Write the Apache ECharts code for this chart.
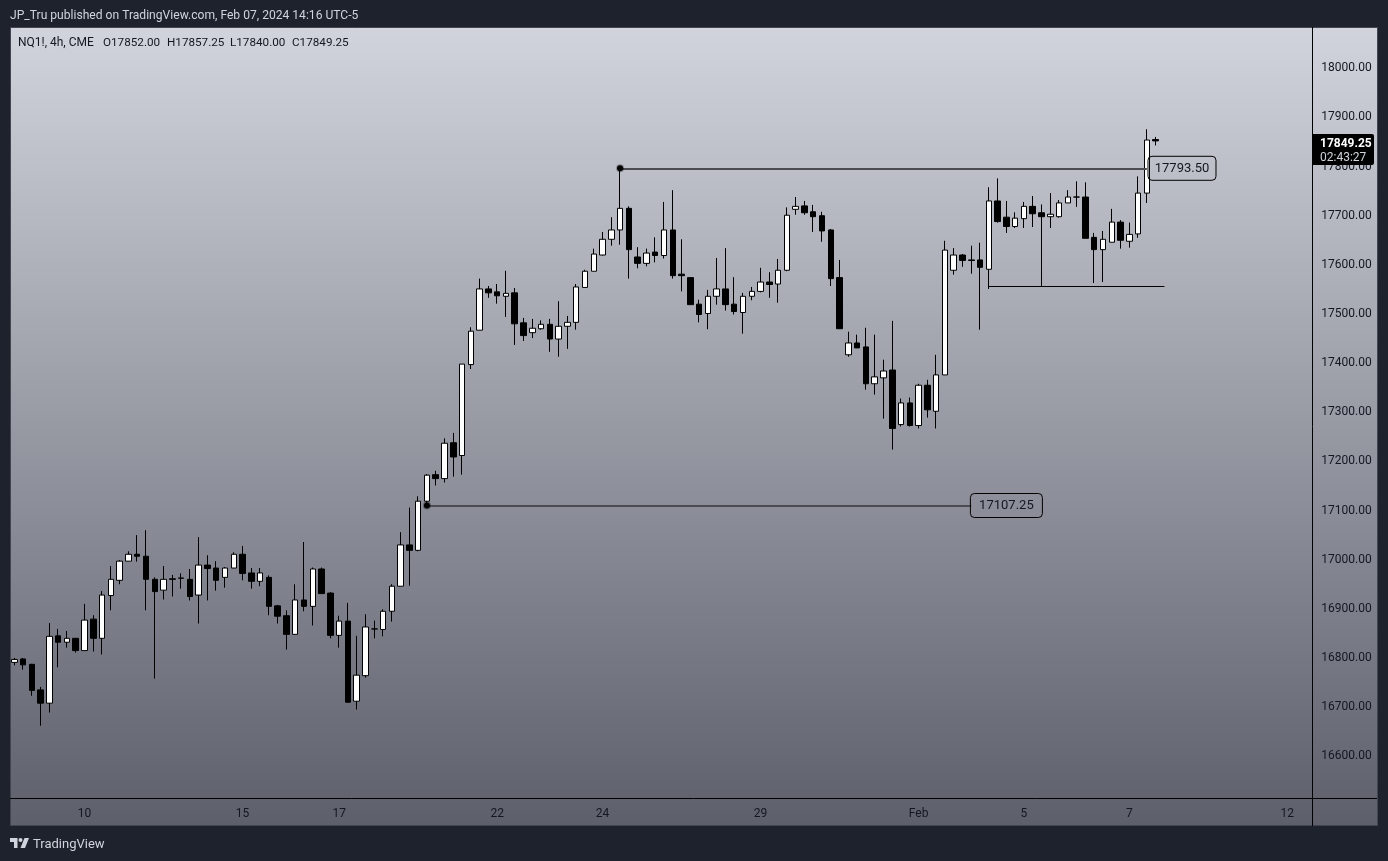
<!DOCTYPE html>
<html>
<head>
<meta charset="utf-8">
<title>NQ1! 4h</title>
<style>
  html, body { margin: 0; padding: 0; background: #1e222d; }
  #main { width: 1388px; height: 861px; }
</style>
<script src="https://cdn.jsdelivr.net/npm/echarts@6/dist/echarts.min.js"></script>
</head>
<body>
<div id="main"></div>
<script>
// one row per 4h bar: open, close, low, high
const bars = [
  [16788,16794,16782,16797],[16795,16783,16773,16797],[16784,16731,16720,16785],[16732,16705,16659,16738],
  [16705,16841,16686,16868],[16842,16829,16778,16856],[16829,16837,16818,16852],[16837,16812,16808,16837],
  [16812,16874,16812,16907],[16876,16837,16810,16884],[16837,16925,16804,16933],[16924,16957,16894,16984],
  [16955,16994,16947,16996],[16994,17008,16994,17014],[17008,17004,16993,17047],[17004,16957,16894,17057],
  [16957,16932,16755,16961],[16935,16957,16916,16984],[16958,16957,16922,16966],[16959,16960,16938,16969],
  [16957,16922,16914,16978],[16925,16986,16867,17043],[16986,16979,16914,17006],[16980,16955,16934,16994],
  [16961,16980,16940,16982],[16980,17008,16980,17012],[17008,16969,16955,17025],[16970,16953,16938,16980],
  [16953,16970,16943,16980],[16961,16902,16884,16965],[16903,16882,16867,16905],[16883,16845,16814,16894],
  [16845,16915,16845,16947],[16915,16902,16892,17033],[16902,16978,16863,16981],[16978,16928,16928,16981],
  [16929,16843,16837,16931],[16843,16872,16818,16883],[16872,16707,16706,16909],[16709,16762,16692,16842],
  [16761,16860,16757,16886],[16856,16856,16837,16873],[16855,16892,16841,16896],[16892,16943,16871,16947],
  [16943,17027,16943,17053],[17027,17016,16944,17103],[17016,17116,17014,17126],[17116,17169,17107,17171],
  [17170,17162,17148,17178],[17162,17234,17154,17244],[17235,17206,17166,17255],[17209,17395,17170,17395],
  [17394,17462,17385,17470],[17464,17548,17464,17569],[17548,17540,17530,17554],[17542,17534,17518,17558],
  [17533,17539,17491,17585],[17540,17477,17434,17550],[17479,17453,17442,17489],[17459,17468,17448,17487],
  [17467,17476,17465,17484],[17476,17446,17420,17487],[17446,17472,17410,17523],[17472,17480,17426,17493],
  [17480,17552,17465,17558],[17551,17584,17551,17587],[17584,17619,17584,17630],[17617,17649,17616,17664],
  [17649,17668,17636,17694],[17668,17712,17638,17793.5],[17712,17628,17569,17716],[17613,17600,17590,17633],
  [17600,17621,17594,17630],[17623,17616,17602,17653],[17616,17668,17610,17725],[17668,17575,17569,17749],
  [17578,17575,17543,17649],[17571,17516,17516,17571],[17517,17496,17480,17526],[17498,17533,17466,17546],
  [17533,17548,17516,17611],[17548,17516,17504,17631],[17517,17502,17496,17572],[17500,17533,17457,17540],
  [17533,17543,17525,17552],[17543,17562,17541,17591],[17562,17557,17530,17582],[17558,17586,17520,17609],
  [17586,17698,17584,17714],[17710,17716,17699,17735],[17717,17703,17699,17727],[17705,17695,17664,17719],
  [17697,17666,17644,17705],[17668,17569,17554,17670],[17571,17467,17467,17607],[17414,17438,17410,17461],
  [17438,17428,17428,17455],[17430,17355,17343,17469],[17355,17369,17333,17455],[17367,17381,17284,17404],
  [17383,17264,17221,17483],[17272,17316,17268,17325],[17316,17270,17268,17327],[17270,17352,17264,17355],
  [17352,17302,17286,17363],[17299,17373,17264,17414],[17373,17627,17373,17646],[17586,17617,17577,17631],
  [17617,17606,17593,17619],[17607,17606,17579,17636],[17607,17592,17465,17642],[17588,17727,17548,17755],
  [17727,17685,17683,17773],[17694,17675,17662,17727],[17675,17692,17672,17704],[17691,17716,17672,17725],
  [17716,17701,17674,17737],[17703,17695,17554,17720],[17695,17700,17672,17743],[17695,17723,17693,17729],
  [17723,17735,17723,17749],[17735,17735,17715,17767],[17735,17651,17651,17765],[17653,17628,17560,17662],
  [17628,17649,17562,17666],[17643,17684,17643,17711],[17684,17647,17630,17688],[17645,17659,17632,17683],
  [17660,17743,17652,17777],[17743,17851,17723,17873],[17852,17849.25,17840,17857.25]
];
const tickSlots = [8, 26, 37, 55, 67, 85, 103, 115, 127, 145];
const tickLabels = ['10', '15', '17', '22', '24', '29', 'Feb', '5', '7', '12'];
const priceTicks = [16600, 16700, 16800, 16900, 17000, 17100, 17200, 17300, 17400, 17500, 17600, 17700, 17800, 17900, 18000];
const topLevel = 17793.5;
const lowLevel = 17107.25;
const sweepLevel = 17554;

const slotCount = 148;
const fontName = 'Roboto, sans-serif';
const inkColor = '#131722';
const categories = Array.from({ length: slotCount }, (_, i) => {
  const at = tickSlots.indexOf(i);
  return at >= 0 ? tickLabels[at] : '';
});

function levelLine(price, from, to, color, width) {
  return [
    { coord: [from, price], lineStyle: { color: color, width: width, type: 'solid' } },
    { coord: [to, price] }
  ];
}

function priceBox(slot, price, boxWidth) {
  return {
    coord: [slot, price], symbol: 'circle', symbolSize: 0,
    label: {
      show: true, position: 'inside', formatter: price.toFixed(2),
      color: '#131722', fontFamily: fontName, fontSize: 13,
      width: boxWidth, height: 24, lineHeight: 25, align: 'center', verticalAlign: 'middle',
      borderColor: '#000000', borderWidth: 1, borderRadius: 4
    }
  };
}

function anchorDot(slot, price) {
  return {
    coord: [slot, price], symbol: 'circle', symbolSize: 6,
    itemStyle: { color: '#000000', borderColor: 'rgba(0,0,0,0.3)', borderWidth: 2 },
    label: { show: false }
  };
}

function textItem(str, x, y, fill, size, weight) {
  return {
    type: 'text', z: 7, x: x, y: y,
    style: { text: str, fill: fill, font: (weight || '') + ' ' + size + 'px ' + fontName, textVerticalAlign: 'middle' }
  };
}

const myChart = echarts.init(document.getElementById('main'));
myChart.setOption({
  animation: false,
  backgroundColor: '#1e222d',
  grid: { left: 9.9, top: 28, width: 1299.4, height: 770 },
  xAxis: {
    type: 'category',
    data: categories,
    axisLine: { show: false },
    axisTick: { show: false },
    splitLine: { show: false },
    axisLabel: {
      interval: (i) => tickSlots.includes(i),
      color: inkColor,
      fontFamily: fontName,
      fontSize: 12,
      margin: 10
    }
  },
  yAxis: {
    type: 'value',
    position: 'right',
    offset: 3,
    min: 16512,
    max: 18079,
    axisLine: { show: false },
    axisTick: { show: false },
    splitLine: { show: false },
    axisLabel: {
      customValues: priceTicks,
      formatter: (v) => v.toFixed(2),
      color: inkColor,
      fontFamily: fontName,
      fontSize: 12,
      margin: 9,
      verticalAlign: 'top',
      lineHeight: 3
    }
  },
  series: [{
    type: 'candlestick',
    data: bars,
    barWidth: 6,
    clip: false,
    itemStyle: {
      color: '#ffffff',
      color0: '#000000',
      borderColor: '#000000',
      borderColor0: '#000000',
      borderWidth: 1
    },
    markLine: {
      silent: true,
      symbol: ['none', 'none'],
      label: { show: false },
      animation: false,
      data: [
        levelLine(topLevel, 69, 129, '#4a4c52', 2),
        levelLine(lowLevel, 47, 109, '#4a4c52', 2),
        levelLine(sweepLevel, 111, 131, '#000000', 1)
      ]
    },
    markPoint: {
      silent: true,
      animation: false,
      data: [
        anchorDot(69, topLevel),
        anchorDot(47, lowLevel),
        priceBox(133, topLevel, 68),
        priceBox(113, lowLevel, 72)
      ]
    }
  }],
  graphic: [
    // panel behind the plot and both axes
    { type: 'rect', z: -10, shape: { x: 10.5, y: 27.5, width: 1367, height: 798 },
      style: { stroke: '#434651', lineWidth: 1, fill: new echarts.graphic.LinearGradient(0, 0, 0, 1, [{ offset: 0, color: '#d1d4dc' }, { offset: 1, color: '#5d606b' }]) } },
    { type: 'line', z: -5, shape: { x1: 10, y1: 798.5, x2: 1377, y2: 798.5 }, style: { stroke: '#000000', lineWidth: 1 } },
    { type: 'line', z: -5, shape: { x1: 1312.5, y1: 27, x2: 1312.5, y2: 826 }, style: { stroke: '#000000', lineWidth: 1 } },
    // header and legend
    textItem('JP_Tru published on TradingView.com, Feb 07, 2024 14:16 UTC-5', 10, 16, '#d1d4dc', 12.1),
    textItem('NQ1!, 4h, CME', 18, 43, inkColor, 12),
    textItem('O17852.00', 103, 43, inkColor, 11.7),
    textItem('H17857.25', 167, 43, inkColor, 11.7),
    textItem('L17840.00', 230, 43, inkColor, 11.7),
    textItem('C17849.25', 292, 43, inkColor, 11.7),
    // last price tag
    { type: 'rect', z: 6, shape: { x: 1312, y: 134, width: 62, height: 31, r: [0, 2, 2, 0] }, style: { fill: '#000000' } },
    textItem('17849.25', 1320, 144, '#ffffff', 12, 'bold'),
    textItem('02:43:27', 1320, 158, '#d1d4dc', 12),
    // footer mark
    { type: 'polygon', z: 5, shape: { points: [[10, 838], [17.5, 838], [17.5, 848], [14, 848], [14, 842], [10, 842]] }, style: { fill: '#d1d4dc' } },
    { type: 'polygon', z: 5, shape: { points: [[24.5, 838], [29, 838], [25, 848], [20.5, 848]] }, style: { fill: '#d1d4dc' } },
    { type: 'circle', z: 5, shape: { cx: 20.5, cy: 840, r: 2 }, style: { fill: '#d1d4dc' } },
    { type: 'text', z: 5, x: 33, y: 845, style: { text: 'TradingView', fill: '#d1d4dc', font: '13px ' + fontName, textVerticalAlign: 'middle' } }
  ]
});
</script>
</body>
</html>
